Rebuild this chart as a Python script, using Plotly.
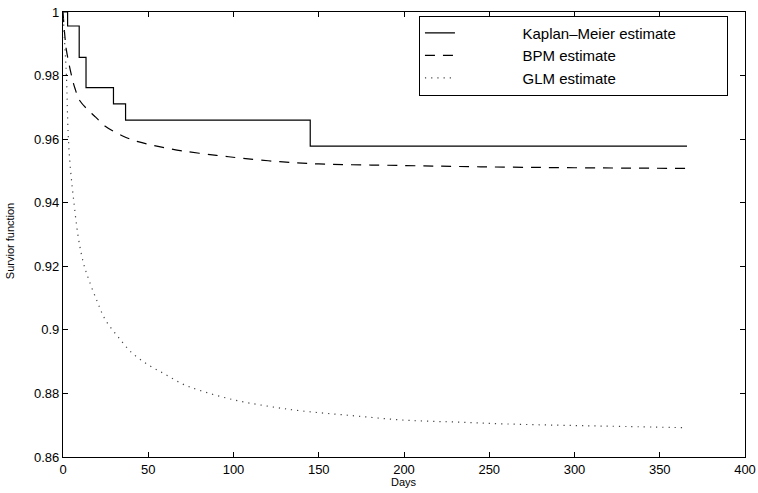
import plotly.graph_objects as go

# Kaplan-Meier step estimate
km_days = [0, 2.7, 9.5, 13.5, 29.6, 36.7, 145, 366]
km_surv = [1.0, 0.9956, 0.9857, 0.9762, 0.9711, 0.9660, 0.9578, 0.9578]

# BPM estimate
bpm_days = [0, 1, 2, 5, 7, 10, 17, 19, 25, 35, 44, 55, 70, 90, 105, 127, 150, 200, 245, 300, 366]
bpm_surv = [1.0, 0.993, 0.988, 0.980, 0.976, 0.972, 0.968, 0.967, 0.964, 0.961, 0.9592,
            0.9578, 0.9563, 0.9549, 0.954, 0.9529, 0.9522, 0.9517, 0.9513, 0.951, 0.9508]

# GLM estimate
glm_days = [0, 1, 2, 3, 4, 6, 9, 12, 15, 20, 25, 32, 40, 50, 60, 70, 80, 100, 120, 140,
            170, 200, 230, 260, 300, 330, 366]
glm_surv = [1.0, 0.990, 0.980, 0.962, 0.953, 0.942, 0.929, 0.921, 0.916, 0.909, 0.903, 0.898,
            0.893, 0.889, 0.886, 0.883, 0.881, 0.878, 0.876, 0.8745, 0.873, 0.8716, 0.8710,
            0.8704, 0.8699, 0.8696, 0.8692]

x_ticks = [0, 50, 100, 150, 200, 250, 300, 350, 400]
y_ticks = [0.86, 0.88, 0.9, 0.92, 0.94, 0.96, 0.98, 1.0]
y_tick_text = ["0.86", "0.88", "0.9", "0.92", "0.94", "0.96", "0.98", "1"]

x_title = "Days"
y_title = "Survior function"
series_names = ["Kaplan\u2013Meier estimate", "BPM estimate", "GLM estimate"]

FONT = "Liberation Sans, Arial, Helvetica, sans-serif"
PAD = "\u00a0" * 15
TAIL = "\u00a0" * 11

fig = go.Figure()
fig.add_trace(go.Scatter(x=km_days, y=km_surv, mode="lines", line_shape="hv",
                         name=PAD + series_names[0] + TAIL,
                         line=dict(color="black", width=1.2)))
fig.add_trace(go.Scatter(x=bpm_days, y=bpm_surv, mode="lines", line_shape="spline",
                         name=PAD + series_names[1],
                         line=dict(color="black", width=1.2, dash="10px,8px")))
fig.add_trace(go.Scatter(x=glm_days, y=glm_surv, mode="lines", line_shape="spline",
                         name=PAD + series_names[2],
                         line=dict(color="#444444", width=1.2, dash="1.2px,5px")))

axis_common = dict(showgrid=False, zeroline=False, showline=True, linecolor="black",
                   linewidth=1.3, mirror="ticks", ticks="inside", ticklen=5,
                   tickcolor="black", tickwidth=1, automargin=False,
                   tickfont=dict(family=FONT, size=13, color="black"))

fig.update_xaxes(range=[0, 400], tickvals=x_ticks, **axis_common)
fig.update_yaxes(range=[0.86, 1.0], tickvals=y_ticks, ticktext=y_tick_text, **axis_common)

fig.add_annotation(text=x_title, xref="paper", yref="paper", x=0.5, y=-0.056,
                   xanchor="center", yanchor="middle", showarrow=False,
                   font=dict(family=FONT, size=11, color="black"))
fig.add_annotation(text=y_title, xref="paper", yref="paper", x=-0.0777, y=0.485,
                   xanchor="center", yanchor="middle", showarrow=False, textangle=-90,
                   font=dict(family=FONT, size=11, color="black"))

fig.update_layout(
    width=758, height=493,
    margin=dict(l=63, r=13, t=12, b=36),
    paper_bgcolor="white", plot_bgcolor="white",
    font=dict(family=FONT, color="black"),
    showlegend=True,
    legend=dict(x=0.975, y=0.902, xanchor="right", yanchor="middle",
                bgcolor="white", bordercolor="black", borderwidth=1,
                font=dict(family=FONT, size=15, color="black"),
                tracegroupgap=0),
)

fig.write_html("out.html", config={"displayModeBar": False},
               post_script="document.body.style.margin='0';document.body.style.overflow='hidden';")
